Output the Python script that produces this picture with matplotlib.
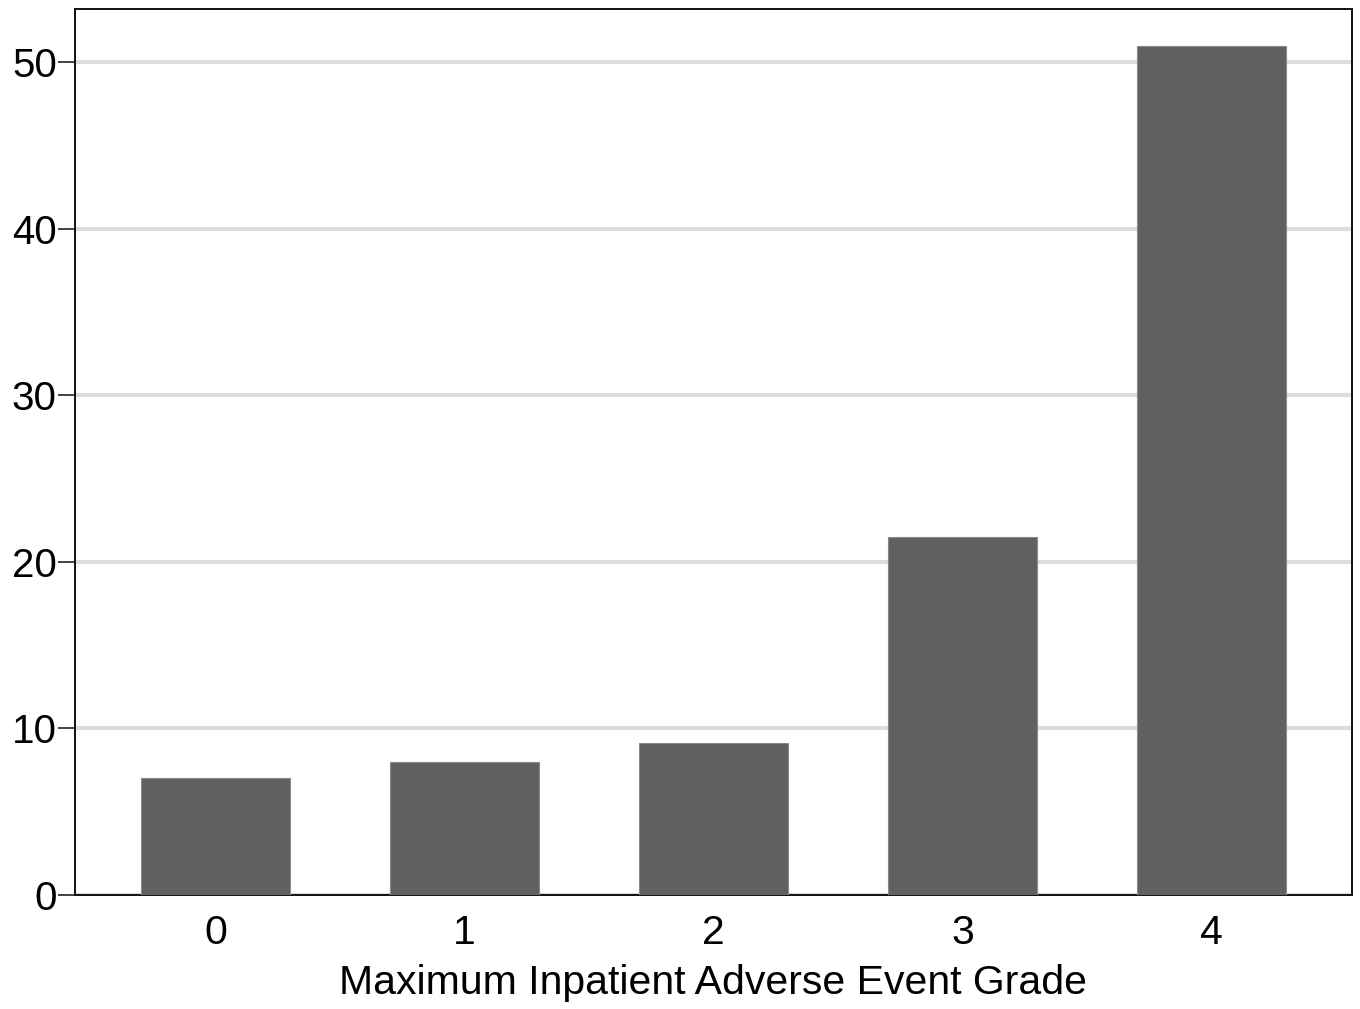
import matplotlib

matplotlib.use("Agg")
import matplotlib.pyplot as plt

grades = ["0", "1", "2", "3", "4"]
percent = [7.0, 8.0, 9.1, 21.5, 51.0]
yticks = [0, 10, 20, 30, 40, 50]

plt.rcParams["font.family"] = ["Liberation Sans", "DejaVu Sans"]

fig = plt.figure(figsize=(13.6, 10.09), dpi=100)
ax = fig.add_axes([0.0551, 0.113, 0.939, 0.878])

x = list(range(len(grades)))
ax.bar(x, percent, width=0.6, color="#606060", edgecolor="#8a8a8a", linewidth=0.8, zorder=3)

ax.set_xlim(-0.566, 4.565)
ax.set_ylim(0, 53.2)
ax.set_yticks(yticks)
ax.set_xticks(x)
ax.set_xticklabels(grades)
ax.yaxis.grid(True, color="#dcdcdc", linewidth=3, zorder=0)
ax.set_axisbelow(True)

ax.tick_params(axis="y", length=12, width=1.2, labelsize=29, pad=1, color="#222222")
ax.tick_params(axis="x", length=0, labelsize=29.5, pad=14)
for s in ax.spines.values():
    s.set_linewidth(1.4)
    s.set_color("#111111")

ax.set_xlabel("Maximum Inpatient Adverse Event Grade", fontsize=29.5, labelpad=8)

fig.savefig("out.png", dpi=100)
